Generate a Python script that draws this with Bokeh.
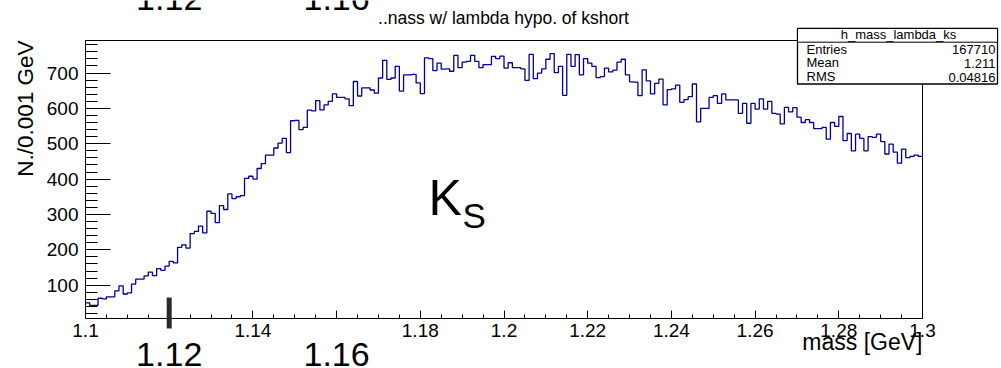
import numpy as np
from bokeh.plotting import figure
from bokeh.models import Range1d, FixedTicker, Label, BoxAnnotation
from bokeh.embed import file_html
from bokeh.resources import INLINE

# ---------------- data ----------------
x_min, x_max = 1.1, 1.3
n_bins = 200
counts = [50, 43, 43, 63, 61, 67, 67, 84, 98, 75,
          78, 103, 117, 117, 126, 137, 127, 147, 142, 154,
          167, 163, 207, 214, 205, 246, 252, 267, 248, 309,
          303, 277, 325, 314, 358, 345, 350, 353, 402, 408,
          400, 430, 444, 468, 468, 488, 502, 515, 475, 565,
          566, 540, 546, 595, 593, 622, 596, 610, 620, 641,
          631, 631, 627, 608, 676, 635, 658, 658, 652, 643,
          686, 736, 682, 686, 719, 649, 695, 695, 696, 672,
          642, 743, 741, 707, 728, 711, 712, 705, 750, 715,
          731, 733, 750, 733, 715, 724, 724, 747, 741, 748,
          714, 729, 715, 715, 712, 679, 753, 684, 700, 712,
          739, 755, 701, 719, 637, 753, 719, 752, 695, 741,
          728, 719, 687, 690, 714, 703, 708, 731, 739, 695,
          675, 674, 636, 709, 678, 641, 671, 683, 610, 653,
          655, 666, 617, 625, 633, 669, 562, 600, 600, 631,
          636, 614, 641, 624, 624, 624, 586, 614, 558, 614,
          598, 627, 598, 620, 586, 584, 556, 603, 590, 602,
          575, 560, 568, 560, 543, 543, 546, 513, 560, 549,
          577, 509, 529, 480, 527, 515, 480, 520, 518, 527,
          506, 471, 499, 476, 445, 485, 461, 464, 468, 464]

x_ticks = [1.1, 1.12, 1.14, 1.16, 1.18, 1.2, 1.22, 1.24, 1.26, 1.28, 1.3]
x_tick_labels = ["1.1", "", "1.14", "", "1.18", "1.2", "1.22", "1.24", "1.26", "1.28", "1.3"]
big_tick_values = [1.12, 1.16]
big_tick_labels = ["1.12", "1.16"]
y_ticks = [100, 200, 300, 400, 500, 600, 700]

title_text = "..nass w/ lambda hypo. of kshort"
x_title = "mass [GeV]"
y_title = "N./0.001 GeV"
stats_name = "h_mass_lambda_ks"
stats_keys = ["Entries", "Mean", "RMS"]
stats_vals = ["167710", "1.211", "0.04816"]

# ---------------- layout ----------------
W, H = 1001, 368
L, R, T, B = 85, 922, 40, 318          # ROOT frame in page pixels
Y0, Y1 = 5.7, 792.0                    # y values at frame bottom / top
FONT = "Liberation Sans"
MID = 0.3465                           # baseline offset below a 'middle' anchor (em)


def dx(px):
    return x_min + (px - L) / (R - L) * (x_max - x_min)


def dy(py):
    return Y0 + (B - py) / (B - T) * (Y1 - Y0)


p = figure(width=W, height=H, title=None,
           x_range=Range1d(dx(0), dx(W)), y_range=Range1d(dy(H), dy(0)),
           output_backend="svg", toolbar_location=None,
           min_border_left=0, min_border_right=0,
           min_border_top=0, min_border_bottom=0)
p.grid.visible = False
p.outline_line_color = None
p.background_fill_color = "white"
p.border_fill_color = "white"

edges = np.round(np.linspace(x_min, x_max, n_bins + 1), 4)
p.step(x=list(edges), y=counts + [counts[-1]], mode="after",
       line_color="#000099", line_width=1.3)

# axes (library axes, pinned onto the ROOT frame edges)
xa = p.xaxis[0]
xa.fixed_location = Y0
xa.bounds = (x_min, x_max)
xa.ticker = FixedTicker(ticks=x_ticks,
                        minor_ticks=list(np.round(np.arange(1.1, 1.30001, 0.005), 3)))
xa.major_label_overrides = {t: s for t, s in zip(x_ticks, x_tick_labels)}
xa.major_tick_in = 8
xa.major_tick_out = 0
xa.minor_tick_in = 4
xa.minor_tick_out = 0
xa.major_label_standoff = 5
xa.major_label_text_font = FONT
xa.major_label_text_font_size = "19px"
xa.major_label_text_color = "black"
xa.axis_line_color = "black"
xa.major_tick_line_color = "black"
xa.minor_tick_line_color = "black"

ya = p.yaxis[0]
ya.fixed_location = x_min
ya.bounds = (Y0, Y1)
ya.ticker = FixedTicker(ticks=y_ticks, minor_ticks=list(range(20, 800, 20)))
ya.major_tick_in = 25
ya.major_tick_out = 0
ya.minor_tick_in = 12
ya.minor_tick_out = 0
ya.major_label_standoff = 7
ya.major_label_text_font = FONT
ya.major_label_text_font_size = "19px"
ya.major_label_text_color = "black"
ya.axis_line_color = "black"
ya.major_tick_line_color = "black"
ya.minor_tick_line_color = "black"

# frame box (top / right edges)
p.add_layout(BoxAnnotation(left=x_min, right=x_max, bottom=Y0, top=Y1,
                           fill_color=None, line_color="black", line_width=1, line_alpha=1.0))


def lab(text, x, y_base_px, size, align="left", angle=0.0):
    p.add_layout(Label(x=x, y=dy(y_base_px - MID * size), text=text, text_font=FONT,
                       text_font_size=f"{size}px", text_color="black",
                       text_align=align, text_baseline="middle", angle=angle))


# thick marker at 1.12
half_w = 2.5 * (x_max - x_min) / (R - L)
p.add_layout(BoxAnnotation(left=big_tick_values[0] - half_w, right=big_tick_values[0] + half_w,
                           top=dy(297), bottom=dy(328),
                           fill_color="#2a2a2a", fill_alpha=1.0, line_alpha=0.0))

# title
lab(title_text, dx(503), 24, 17.5, align="center")

# big tick numbers (top one cut by the page edge, bottom one)
for v, s in zip(big_tick_values, big_tick_labels):
    lab(s, v, 10, 34, align="center")
    lab(s, v, 366, 34, align="center")

# K_S
lab("K", dx(428), 215, 50)
lab("S", dx(462), 227, 35)

# axis titles
lab(x_title, dx(922), 349, 23, align="right")
p.add_layout(Label(x=dx(33 - MID * 22.5), y=dy(40), text=y_title, text_font=FONT,
                   text_font_size="22.5px", text_color="black",
                   text_align="right", text_baseline="middle", angle=np.pi / 2))

# stats box
p.add_layout(BoxAnnotation(left=dx(797), right=dx(997), top=dy(28), bottom=dy(83.5),
                           fill_color="white", fill_alpha=1.0,
                           line_color="black", line_width=1.3, line_alpha=1.0))
p.add_layout(BoxAnnotation(left=dx(797), right=dx(997), top=dy(28), bottom=dy(41.7),
                           fill_color="white", fill_alpha=1.0,
                           line_color="black", line_width=1, line_alpha=1.0))
lab(stats_name, dx(898), 38.8, 13, align="center")
for i, (k, v) in enumerate(zip(stats_keys, stats_vals)):
    lab(k, dx(806), 53.3 + 13.7 * i, 13)
    lab(v, dx(995), 54 + 13.7 * i, 13, align="right")

open("out.html", "w").write(file_html(p, INLINE))
